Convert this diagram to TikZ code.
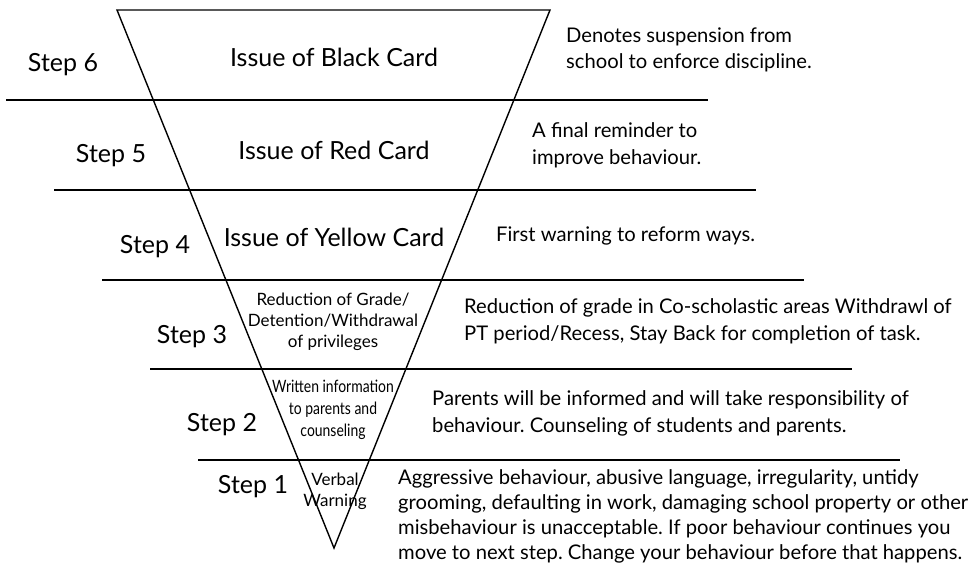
\documentclass[tikz,border=0pt]{standalone}
\usepackage{fontspec}
\setmainfont{Lato}
\newfontfamily\narrowfont[FakeStretch=0.82]{Lato}
\usepackage{tikz}
\usetikzlibrary{positioning}
\frenchspacing
\tikzset{
  funnel-line/.style={draw=black, line width=1.4pt},
  funnel-step/.style={inner sep=0pt, font=\fontsize{25}{29}\selectfont},
  funnel-card/.style={inner sep=0pt, font=\fontsize{25}{29}\selectfont},
  funnel-small/.style={inner sep=0pt, align=center, font=\fontsize{17}{21}\selectfont},
  funnel-note/.style={inner sep=0pt, align=left, anchor=west, font=\fontsize{20.2}{26.5}\selectfont}
}

\begin{document}
\begin{tikzpicture}[x=1pt, y=-1pt]
  \useasboundingbox (0,0) rectangle (976,564);

  % Inverted triangle and the step dividers
  \draw[funnel-line, line join=miter] (117,10) -- (550,10) -- (334,548) -- cycle;
  \foreach \i/\y in {0/100, 1/190, 2/280, 3/369, 4/460}
    \draw[funnel-line] (6+48*\i,\y) -- ++(702,0);

  % Step labels on the left
  \node[funnel-step] (step6) at (63,65) {Step 6};
  \node[funnel-step] (step5) at (111,156) {Step 5};
  \node[funnel-step] (step4) at (155,247) {Step 4};
  \node[funnel-step] (step3) at (192,337) {Step 3};
  \node[funnel-step] (step2) at (222,425) {Step 2};
  \node[funnel-step] (step1) at (253,487) {Step 1};

  % Measures inside the triangle
  \node[funnel-card] (black) at (334,57) {Issue of Black Card};
  \node[funnel-card] (red) at (334,150) {Issue of Red Card};
  \node[funnel-card] (yellow) at (334,237) {Issue of Yellow Card};
  \node[funnel-small] (grade) at (333,322) {Reduction of Grade/\\Detention/Withdrawal\\of privileges};
  \node[funnel-small, font=\narrowfont\fontsize{17}{22}\selectfont] (written) at (333,410) {Written information\\to parents and\\counseling};
  \node[funnel-small] (verbal) at (335,491) {Verbal\\Warning};

  % Notes on the right
  \node[funnel-note] (note6) at (566,50) {Denotes suspension from\\school to enforce discipline.};
  \node[funnel-note] (note5) at (532,145.5) {A final reminder to\\improve behaviour.};
  \node[funnel-note] (note4) at (496,236) {First warning to reform ways.};
  \node[funnel-note] (note3) at (464,321.5) {Reduction of grade in Co-scholastic areas Withdrawl of\\PT period/Recess, Stay Back for completion of task.};
  \node[funnel-note] (note2) at (432,413.5) {Parents will be informed and will take responsibility of\\behaviour. Counseling of students and parents.};
  \node[funnel-note, font=\fontsize{20.2}{25}\selectfont] (note1) at (398,516.5) {Aggressive behaviour, abusive language, irregularity, untidy\\grooming, defaulting in work, damaging school property or other\\misbehaviour is unacceptable. If poor behaviour continues you\\move to next step. Change your behaviour before that happens.};
\end{tikzpicture}
\end{document}
